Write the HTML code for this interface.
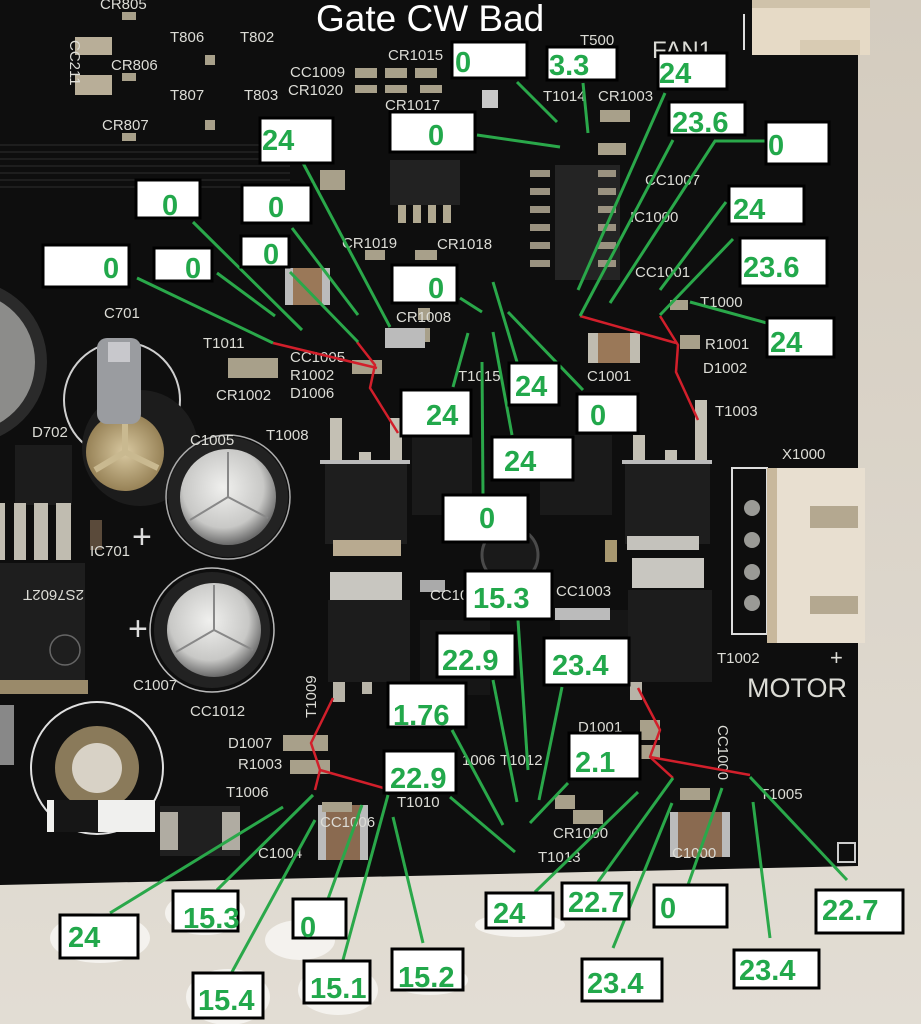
<!DOCTYPE html>
<html><head><meta charset="utf-8"><style>
html,body{margin:0;padding:0;background:#d8d1c5;}
svg{display:block;}
.s{font-family:"Liberation Sans",sans-serif;fill:#dcdcd6;font-size:15px;}
.v{font-family:"Liberation Sans",sans-serif;fill:#22a84b;font-size:29px;font-weight:bold;}
</style></head><body>
<svg width="921" height="1024" viewBox="0 0 921 1024" xmlns="http://www.w3.org/2000/svg">
<defs>
<linearGradient id="bg" x1="0" y1="0" x2="0" y2="1"><stop offset="0" stop-color="#d4ccbf"/><stop offset="1" stop-color="#e2ddd4"/></linearGradient>
<radialGradient id="silver" cx="0.45" cy="0.4" r="0.6"><stop offset="0" stop-color="#f0f0ee"/><stop offset="0.7" stop-color="#c8c8c6"/><stop offset="1" stop-color="#6a6a6a"/></radialGradient>
<radialGradient id="gold" cx="0.5" cy="0.5" r="0.6"><stop offset="0" stop-color="#d8c8a0"/><stop offset="1" stop-color="#8a7448"/></radialGradient>
</defs>
<rect width="921" height="1024" fill="url(#bg)"/>
<!-- white blobs bottom -->
<g fill="#f4f2ee">
<ellipse cx="100" cy="938" rx="50" ry="25"/><ellipse cx="205" cy="913" rx="40" ry="22"/>
<ellipse cx="300" cy="940" rx="35" ry="20"/><ellipse cx="228" cy="997" rx="42" ry="28"/>
<ellipse cx="338" cy="990" rx="40" ry="25"/><ellipse cx="430" cy="980" rx="38" ry="15"/>
<ellipse cx="520" cy="925" rx="45" ry="12"/>
</g>
<!-- board -->
<polygon points="0,0 858,0 858,866 0,885" fill="#0e0e0e"/>
<!-- faint traces left -->
<g stroke="#1e1e1e" stroke-width="2">
<line x1="0" y1="145" x2="290" y2="145"/><line x1="0" y1="152" x2="290" y2="152"/><line x1="0" y1="159" x2="290" y2="159"/><line x1="0" y1="166" x2="290" y2="166"/><line x1="0" y1="173" x2="290" y2="173"/><line x1="0" y1="180" x2="290" y2="180"/><line x1="0" y1="187" x2="280" y2="187"/>
</g>
<!-- top-left caps -->
<rect x="75" y="37" width="37" height="18" fill="#b8ae98"/>
<rect x="75" y="75" width="37" height="20" fill="#b8ae98"/>
<g fill="#a8a08a">
<rect x="122" y="12" width="14" height="8"/><rect x="122" y="73" width="14" height="8"/><rect x="122" y="133" width="14" height="8"/>
<rect x="205" y="55" width="10" height="10"/><rect x="205" y="120" width="10" height="10"/>
<rect x="355" y="68" width="22" height="10"/><rect x="385" y="68" width="22" height="10"/><rect x="415" y="68" width="22" height="10"/>
<rect x="355" y="85" width="22" height="8"/><rect x="385" y="85" width="22" height="8"/><rect x="420" y="85" width="22" height="8"/>
<rect x="320" y="170" width="25" height="20"/><rect x="365" y="250" width="20" height="10"/><rect x="415" y="250" width="22" height="10"/>
<rect x="400" y="328" width="30" height="14"/><rect x="418" y="308" width="12" height="12"/>
<rect x="600" y="110" width="30" height="12"/><rect x="598" y="143" width="28" height="12"/>
<rect x="670" y="300" width="18" height="10"/><rect x="680" y="335" width="20" height="14"/>
<rect x="228" y="358" width="50" height="20"/><rect x="352" y="360" width="30" height="14"/>
</g>
<!-- IC1001 -->
<rect x="390" y="160" width="70" height="45" fill="#222"/>
<g fill="#b0a890"><rect x="398" y="205" width="8" height="18"/><rect x="413" y="205" width="8" height="18"/><rect x="428" y="205" width="8" height="18"/><rect x="443" y="205" width="8" height="18"/></g>
<!-- IC1000 -->
<rect x="555" y="165" width="65" height="115" fill="#242424"/>
<g fill="#9a9280">
<rect x="530" y="170" width="20" height="7"/><rect x="530" y="188" width="20" height="7"/><rect x="530" y="206" width="20" height="7"/><rect x="530" y="224" width="20" height="7"/><rect x="530" y="242" width="20" height="7"/><rect x="530" y="260" width="20" height="7"/>
<rect x="598" y="170" width="18" height="7"/><rect x="598" y="188" width="18" height="7"/><rect x="598" y="206" width="18" height="7"/><rect x="598" y="224" width="18" height="7"/><rect x="598" y="242" width="18" height="7"/><rect x="598" y="260" width="18" height="7"/>
</g>
<rect x="482" y="90" width="16" height="18" fill="#c8c8c8"/>
<!-- FAN connector -->
<rect x="752" y="0" width="118" height="55" fill="#e6dac6"/>
<rect x="752" y="0" width="118" height="8" fill="#cfc2aa"/>
<rect x="800" y="40" width="60" height="15" fill="#d8cbb3"/>
<line x1="744" y1="14" x2="744" y2="50" stroke="#ddd" stroke-width="2"/>
<!-- left grey disk -->
<circle cx="-35" cy="362" r="82" fill="#2a2a2a"/>
<circle cx="-35" cy="362" r="70" fill="#8c8c8a"/>
<!-- C701 -->
<circle cx="122" cy="400" r="58" fill="none" stroke="#cfcfcf" stroke-width="2"/>
<circle cx="140" cy="448" r="58" fill="#1c1c1c"/>
<circle cx="125" cy="452" r="39" fill="url(#gold)"/>
<path d="M125 452 L125 415 M125 452 L95 470 M125 452 L158 468" stroke="#c9b990" stroke-width="6"/>
<rect x="97" y="338" width="44" height="86" rx="10" fill="#9a9ca0"/>
<rect x="108" y="342" width="22" height="20" fill="#c8c8cc"/>
<!-- C1005 -->
<circle cx="228" cy="497" r="60" fill="#222"/>
<circle cx="228" cy="497" r="48" fill="url(#silver)"/>
<path d="M228 497 L228 452 M228 497 L190 520 M228 497 L268 518" stroke="#888" stroke-width="2"/>
<circle cx="228" cy="497" r="62" fill="none" stroke="#aaa" stroke-width="1.5"/>
<!-- C1007 -->
<circle cx="212" cy="630" r="58" fill="#222"/>
<circle cx="212" cy="630" r="62" fill="none" stroke="#bbb" stroke-width="1.5"/>
<circle cx="214" cy="630" r="47" fill="url(#silver)"/>
<path d="M214 630 L214 585 M214 630 L176 652 M214 630 L253 650" stroke="#888" stroke-width="2"/>
<text x="132" y="548" font-family="Liberation Sans,sans-serif" font-size="34" fill="#ddd">+</text>
<text x="128" y="640" font-family="Liberation Sans,sans-serif" font-size="34" fill="#ddd">+</text>
<!-- IC701 -->
<rect x="15" y="445" width="57" height="60" fill="#1c1c1c"/>
<g fill="#c0bcb0"><rect x="0" y="503" width="5" height="57"/><rect x="14" y="503" width="12" height="57"/><rect x="34" y="503" width="14" height="57"/><rect x="56" y="503" width="15" height="57"/></g>
<rect x="0" y="563" width="85" height="117" fill="#1e1e1e"/>
<rect x="0" y="680" width="88" height="14" fill="#9a8a6a"/>
<text x="0" y="610" class="s" font-size="16" fill="#777" transform="rotate(180 42 600)">2S7602T</text>
<circle cx="65" cy="650" r="15" fill="none" stroke="#666" stroke-width="1.5"/>
<rect x="90" y="520" width="12" height="30" fill="#5a4a3a"/>
<!-- T1008 mosfet -->
<g fill="#c4c0b4"><rect x="330" y="418" width="12" height="45"/><rect x="390" y="418" width="12" height="45"/><rect x="359" y="452" width="12" height="14"/></g>
<rect x="320" y="460" width="90" height="4" fill="#bbb"/>
<rect x="325" y="464" width="82" height="80" fill="#1e1e1e"/>
<rect x="333" y="540" width="68" height="16" fill="#b8aa90"/>
<!-- lower left mosfet -->
<rect x="330" y="572" width="72" height="30" fill="#c8c6c0"/>
<rect x="328" y="600" width="82" height="82" fill="#1c1c1c"/>
<g fill="#b8b4a8"><rect x="333" y="682" width="12" height="20"/><rect x="362" y="682" width="10" height="12"/></g>
<!-- central chips -->
<rect x="412" y="435" width="60" height="80" fill="#1a1a1a"/>
<rect x="540" y="435" width="72" height="80" fill="#1a1a1a"/>
<circle cx="510" cy="555" r="28" fill="#1a1a1a" stroke="#4a4a4a" stroke-width="3"/>
<rect x="420" y="620" width="70" height="75" fill="#161616"/>
<rect x="560" y="610" width="70" height="70" fill="#161616"/>
<rect x="420" y="580" width="25" height="12" fill="#aaa"/>
<rect x="555" y="608" width="55" height="12" fill="#bbb"/>
<rect x="605" y="540" width="12" height="22" fill="#a89870"/>
<!-- right mosfets -->
<g fill="#c4c0b4"><rect x="633" y="435" width="12" height="30"/><rect x="695" y="400" width="12" height="62"/><rect x="665" y="450" width="12" height="15"/></g>
<rect x="622" y="460" width="90" height="4" fill="#bbb"/>
<rect x="625" y="464" width="85" height="80" fill="#1e1e1e"/>
<rect x="627" y="536" width="72" height="14" fill="#c4c2bc"/>
<rect x="632" y="558" width="72" height="30" fill="#c8c6c0"/>
<rect x="628" y="590" width="84" height="92" fill="#1c1c1c"/>
<rect x="630" y="682" width="12" height="18" fill="#b8b4a8"/>
<!-- C1001 etc -->
<rect x="588" y="333" width="52" height="30" fill="#9a7858"/>
<rect x="588" y="333" width="10" height="30" fill="#c0bcb0"/><rect x="630" y="333" width="10" height="30" fill="#c0bcb0"/>
<rect x="285" y="268" width="45" height="37" fill="#9a7858"/>
<rect x="285" y="268" width="8" height="37" fill="#bbb"/><rect x="322" y="268" width="8" height="37" fill="#bbb"/>
<rect x="385" y="328" width="40" height="20" fill="#bbb"/>
<!-- X1000 connector -->
<rect x="732" y="468" width="35" height="166" fill="none" stroke="#ddd" stroke-width="2"/>
<g fill="#9a9a96"><circle cx="752" cy="508" r="8"/><circle cx="752" cy="540" r="8"/><circle cx="752" cy="572" r="8"/><circle cx="752" cy="603" r="8"/></g>
<rect x="767" y="468" width="98" height="175" fill="#e8dfd0"/>
<rect x="767" y="468" width="10" height="175" fill="#c8b89c"/>
<rect x="810" y="506" width="48" height="22" fill="#b4a890"/>
<rect x="810" y="596" width="48" height="18" fill="#b4a890"/>
<!-- bottom-left mount -->
<circle cx="97" cy="768" r="66" fill="#101010" stroke="#e0e0e0" stroke-width="2"/>
<circle cx="97" cy="768" r="42" fill="#8a7a5a"/>
<circle cx="97" cy="768" r="25" fill="#d8d2c6"/>
<rect x="47" y="800" width="108" height="32" fill="#f0f0ee"/>
<rect x="54" y="800" width="44" height="32" fill="#161616"/>
<rect x="0" y="705" width="14" height="60" fill="#888"/>
<!-- D704 -->
<rect x="160" y="806" width="80" height="50" fill="#202020"/>
<rect x="160" y="812" width="18" height="38" fill="#b0aca2"/><rect x="222" y="812" width="18" height="38" fill="#b0aca2"/>
<!-- C1004 / C1000 -->
<rect x="318" y="805" width="50" height="55" fill="#8a6a50"/>
<rect x="318" y="805" width="8" height="55" fill="#bbb"/><rect x="360" y="805" width="8" height="55" fill="#bbb"/>
<rect x="670" y="812" width="60" height="45" fill="#8a6a50"/>
<rect x="670" y="812" width="8" height="45" fill="#bbb"/><rect x="722" y="812" width="8" height="45" fill="#bbb"/>
<g fill="#a8a08a"><rect x="283" y="735" width="45" height="16"/><rect x="290" y="760" width="40" height="14"/><rect x="322" y="802" width="30" height="10"/><rect x="680" y="788" width="30" height="12"/><rect x="555" y="795" width="20" height="14"/><rect x="573" y="810" width="30" height="14"/><rect x="640" y="720" width="20" height="20"/><rect x="635" y="745" width="25" height="14"/></g>
<rect x="838" y="843" width="17" height="19" fill="none" stroke="#ccc" stroke-width="2"/>
<!-- silkscreen text -->
<g class="s">
<text x="100" y="9">CR805</text>
<text x="170" y="42">T806</text><text x="240" y="42">T802</text>
<text x="111" y="70">CR806</text>
<text x="170" y="100">T807</text><text x="244" y="100">T803</text>
<text x="102" y="130">CR807</text>
<text x="290" y="77">CC1009</text><text x="288" y="95">CR1020</text>
<text x="388" y="60">CR1015</text><text x="385" y="110">CR1017</text>
<text x="580" y="45">T500</text>
<text x="652" y="58" font-size="24">FAN1</text>
<text x="543" y="101">T1014</text><text x="598" y="101">CR1003</text>
<text x="645" y="185">CC1007</text><text x="630" y="222">IC1000</text>
<text x="635" y="277">CC1001</text><text x="700" y="307">T1000</text>
<text x="342" y="248">CR1019</text><text x="437" y="249">CR1018</text>
<text x="396" y="322">CR1008</text>
<text x="104" y="318">C701</text><text x="203" y="348">T1011</text>
<text x="290" y="362">CC1005</text><text x="290" y="380">R1002</text>
<text x="216" y="400">CR1002</text><text x="290" y="398">D1006</text>
<text x="266" y="440">T1008</text><text x="32" y="437">D702</text>
<text x="190" y="445">C1005</text><text x="90" y="556">IC701</text>
<text x="705" y="349">R1001</text><text x="703" y="373">D1002</text>
<text x="715" y="416">T1003</text><text x="782" y="459">X1000</text>
<text x="587" y="381">C1001</text><text x="458" y="381">T1015</text>
<text x="556" y="596">CC1003</text><text x="430" y="600">CC10</text>
<text x="717" y="663">T1002</text>
<text x="830" y="665" font-size="22">+</text>
<text x="747" y="697" font-size="27">MOTOR</text>
<text x="133" y="690">C1007</text><text x="190" y="716">CC1012</text>
<text x="228" y="748">D1007</text><text x="238" y="769">R1003</text>
<text x="226" y="797">T1006</text><text x="258" y="858">C1004</text>
<text x="320" y="827">CC1006</text><text x="397" y="807">T1010</text>
<text x="553" y="838">CR1000</text><text x="538" y="862">T1013</text>
<text x="462" y="765">1006</text><text x="500" y="765">T1012</text>
<text x="578" y="732">D1001</text><text x="760" y="799">T1005</text>
<text x="672" y="858">C1000</text>
</g>
<text x="0" y="0" class="s" transform="translate(316 718) rotate(-90)">T1009</text>
<text x="0" y="0" class="s" transform="translate(718 725) rotate(90)">CC1000</text>
<text x="0" y="0" class="s" transform="translate(70 40) rotate(90)">CC211</text>
<!-- title -->
<text x="316" y="31" font-family="Liberation Sans,sans-serif" font-size="37" fill="#ffffff">Gate CW Bad</text>
<!-- red lines -->
<g fill="none" stroke="#d21f2b" stroke-width="2.5" stroke-linejoin="round">
<polyline points="273,343 377,368"/>
<polyline points="357,342 375,365 370,388 398,433"/>
<polyline points="580,316 676,343"/>
<polyline points="660,316 678,345 676,372 698,420"/>
<polyline points="333,698 311,743 320,770 315,790"/>
<polyline points="320,770 387,789"/>
<polyline points="638,688 660,730 650,757 673,778"/>
<polyline points="650,757 750,775"/>
</g>
<!-- green lines -->
<g fill="none" stroke="#2aa84a" stroke-width="3">
<line x1="303" y1="163" x2="390" y2="327"/>
<line x1="193" y1="222" x2="302" y2="330"/>
<line x1="292" y1="228" x2="358" y2="315"/>
<line x1="290" y1="272" x2="358" y2="342"/>
<line x1="137" y1="278" x2="273" y2="343"/>
<line x1="217" y1="273" x2="275" y2="316"/>
<line x1="460" y1="298" x2="482" y2="312"/>
<line x1="477" y1="135" x2="560" y2="147"/>
<line x1="517" y1="82" x2="557" y2="122"/>
<line x1="583" y1="83" x2="588" y2="133"/>
<line x1="665" y1="93" x2="578" y2="290"/>
<line x1="673" y1="140" x2="580" y2="316"/>
<polyline points="766,141 715,141 610,303"/>
<line x1="726" y1="202" x2="660" y2="290"/>
<line x1="733" y1="239" x2="660" y2="315"/>
<line x1="767" y1="323" x2="690" y2="302"/>
<line x1="517" y1="362" x2="493" y2="282"/>
<line x1="583" y1="390" x2="508" y2="312"/>
<line x1="453" y1="387" x2="468" y2="333"/>
<line x1="512" y1="435" x2="493" y2="332"/>
<line x1="483" y1="495" x2="482" y2="362"/>
<line x1="518" y1="620" x2="528" y2="770"/>
<line x1="493" y1="680" x2="517" y2="802"/>
<line x1="562" y1="687" x2="539" y2="800"/>
<line x1="452" y1="730" x2="503" y2="825"/>
<line x1="450" y1="797" x2="515" y2="852"/>
<line x1="568" y1="783" x2="530" y2="823"/>
<line x1="110" y1="913" x2="283" y2="807"/>
<line x1="217" y1="890" x2="313" y2="795"/>
<line x1="232" y1="972" x2="315" y2="820"/>
<line x1="328" y1="899" x2="362" y2="805"/>
<line x1="343" y1="960" x2="388" y2="795"/>
<line x1="423" y1="943" x2="393" y2="817"/>
<line x1="535" y1="892" x2="638" y2="792"/>
<line x1="598" y1="882" x2="673" y2="778"/>
<line x1="613" y1="948" x2="672" y2="803"/>
<line x1="688" y1="885" x2="722" y2="788"/>
<line x1="770" y1="938" x2="753" y2="802"/>
<line x1="847" y1="880" x2="750" y2="777"/>
</g>
<!-- label boxes -->
<g fill="#ffffff" stroke="#000" stroke-width="3">
<rect x="260" y="118" width="73" height="45"/>
<rect x="136" y="180" width="64" height="38"/>
<rect x="242" y="185" width="69" height="38"/>
<rect x="241" y="236" width="48" height="31"/>
<rect x="43" y="245" width="86" height="42"/>
<rect x="154" y="248" width="58" height="33"/>
<rect x="390" y="112" width="85" height="40"/>
<rect x="392" y="265" width="65" height="38"/>
<rect x="452" y="42" width="75" height="36"/>
<rect x="547" y="47" width="70" height="33"/>
<rect x="658" y="53" width="69" height="36"/>
<rect x="669" y="102" width="76" height="33"/>
<rect x="766" y="122" width="63" height="42"/>
<rect x="729" y="186" width="75" height="38"/>
<rect x="740" y="238" width="87" height="48"/>
<rect x="767" y="318" width="67" height="39"/>
<rect x="509" y="363" width="50" height="42"/>
<rect x="577" y="394" width="61" height="39"/>
<rect x="401" y="390" width="70" height="46"/>
<rect x="492" y="437" width="81" height="43"/>
<rect x="443" y="495" width="85" height="47"/>
<rect x="465" y="571" width="87" height="48"/>
<rect x="437" y="633" width="78" height="44"/>
<rect x="544" y="638" width="85" height="47"/>
<rect x="388" y="683" width="78" height="44"/>
<rect x="384" y="751" width="72" height="42"/>
<rect x="569" y="733" width="71" height="46"/>
<rect x="60" y="915" width="78" height="43"/>
<rect x="173" y="891" width="65" height="40"/>
<rect x="193" y="973" width="70" height="45"/>
<rect x="293" y="899" width="53" height="39"/>
<rect x="304" y="961" width="66" height="42"/>
<rect x="392" y="949" width="71" height="41"/>
<rect x="486" y="893" width="67" height="35"/>
<rect x="562" y="883" width="67" height="36"/>
<rect x="654" y="885" width="73" height="42"/>
<rect x="816" y="890" width="87" height="43"/>
<rect x="582" y="959" width="80" height="42"/>
<rect x="734" y="950" width="85" height="38"/>
</g>
<g class="v">
<text x="262" y="150">24</text>
<text x="162" y="215">0</text>
<text x="268" y="217">0</text>
<text x="263" y="264">0</text>
<text x="103" y="278">0</text>
<text x="185" y="278">0</text>
<text x="428" y="145">0</text>
<text x="428" y="298">0</text>
<text x="455" y="72">0</text>
<text x="549" y="75">3.3</text>
<text x="659" y="83">24</text>
<text x="672" y="132">23.6</text>
<text x="768" y="155">0</text>
<text x="733" y="219">24</text>
<text x="743" y="277">23.6</text>
<text x="770" y="352">24</text>
<text x="515" y="396">24</text>
<text x="590" y="425">0</text>
<text x="426" y="425">24</text>
<text x="504" y="471">24</text>
<text x="479" y="528">0</text>
<text x="473" y="608">15.3</text>
<text x="442" y="670">22.9</text>
<text x="552" y="675">23.4</text>
<text x="393" y="725">1.76</text>
<text x="390" y="788">22.9</text>
<text x="575" y="772">2.1</text>
<text x="68" y="947">24</text>
<text x="183" y="928">15.3</text>
<text x="198" y="1010">15.4</text>
<text x="300" y="937">0</text>
<text x="310" y="998">15.1</text>
<text x="398" y="987">15.2</text>
<text x="493" y="923">24</text>
<text x="568" y="912">22.7</text>
<text x="660" y="918">0</text>
<text x="822" y="920">22.7</text>
<text x="587" y="993">23.4</text>
<text x="739" y="980">23.4</text>
</g>
</svg>
</body></html>
